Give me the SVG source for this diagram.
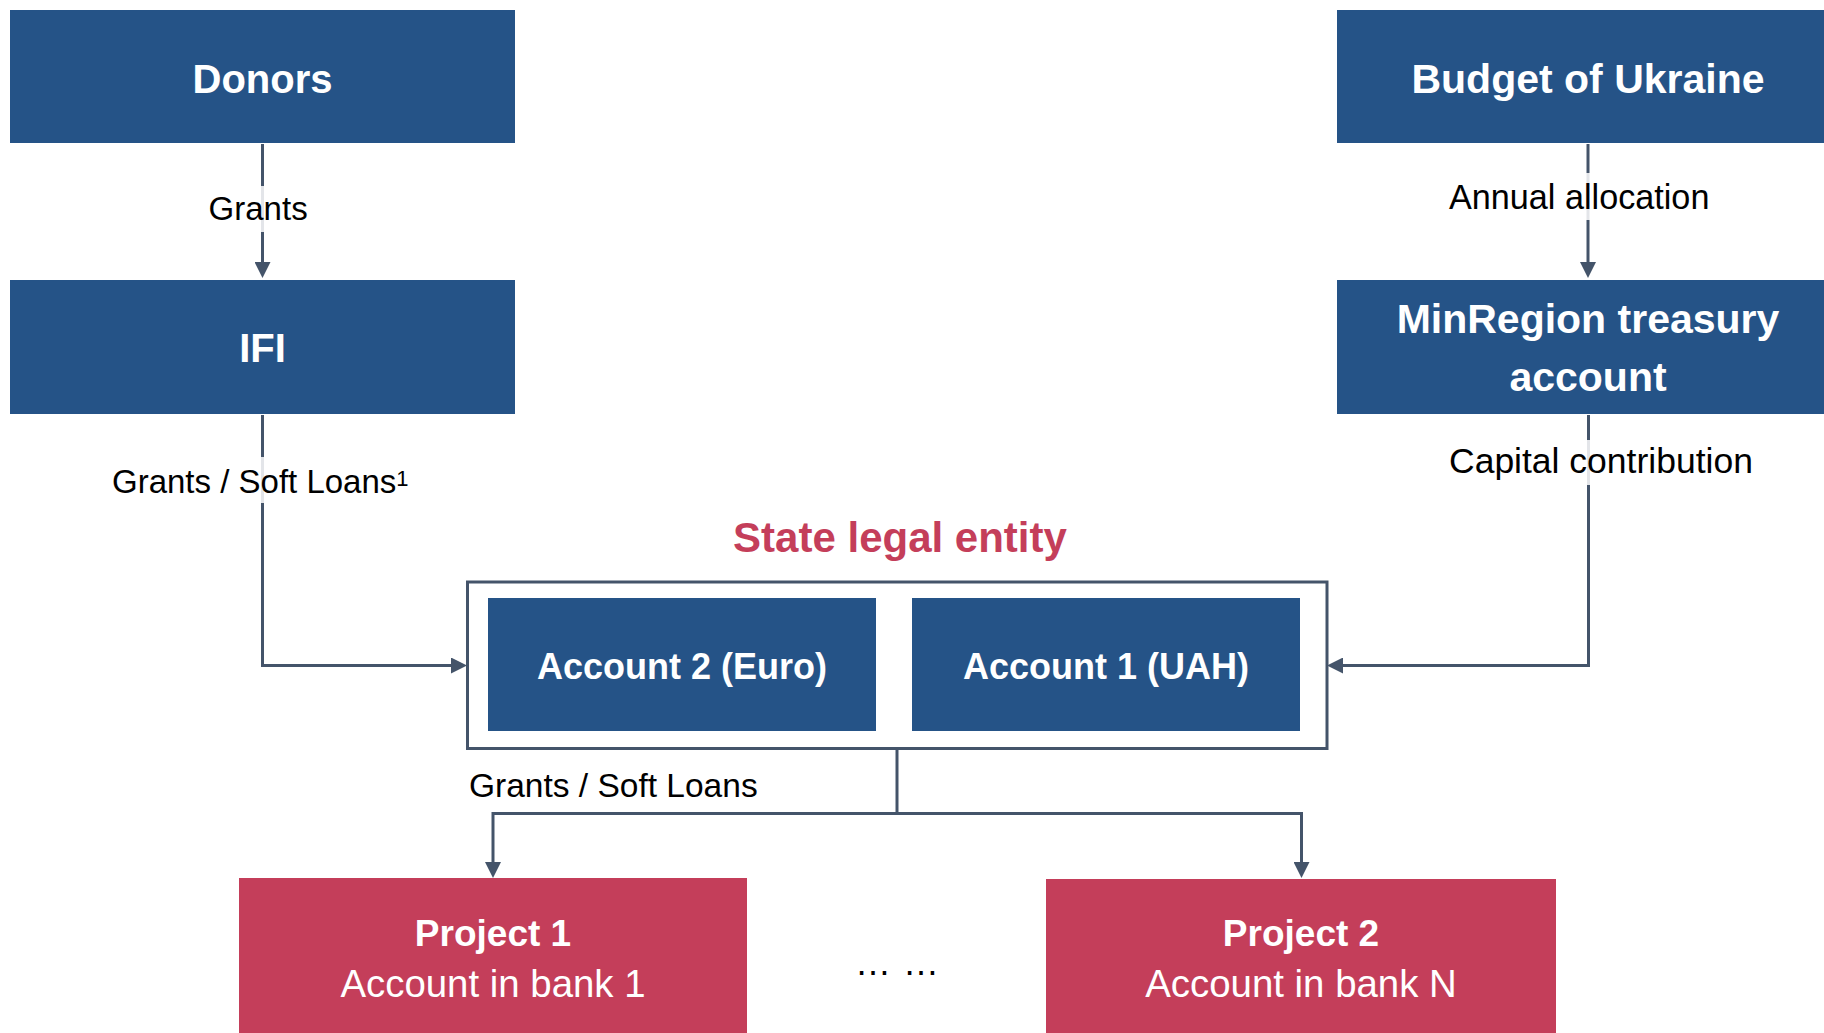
<svg xmlns="http://www.w3.org/2000/svg" width="1824" height="1033" viewBox="0 0 1824 1033">
<style>
  .blue { fill: #255387; }
  .red { fill: #c43e5a; }
  .conn { fill: none; stroke: #44546a; stroke-width: 3; }
  .t { font-family: "Liberation Sans", Arial, sans-serif; }
  .bw { font-family: "Liberation Sans", Arial, sans-serif; font-weight: bold; fill: #ffffff; text-anchor: middle; }
  .lbl { font-family: "Liberation Sans", Arial, sans-serif; fill: #000000; }
  .lblbg { fill: #ffffff; fill-opacity: 0.85; }
</style>
<defs>
  <marker id="arr" markerUnits="userSpaceOnUse" markerWidth="16" markerHeight="16" refX="12" refY="8" orient="auto">
    <path d="M0,0 L16,8 L0,16 Z" fill="#44546a"/>
  </marker>
</defs>
<rect width="1824" height="1033" fill="#ffffff"/>

<g id="node-donors">
  <rect class="blue" x="10" y="10" width="505" height="133"/>
  <text class="bw" x="262.5" y="93" font-size="40">Donors</text>
</g>
<g id="node-ifi">
  <rect class="blue" x="10" y="280" width="505" height="134"/>
  <text class="bw" x="262.5" y="362" font-size="40">IFI</text>
</g>
<g id="node-budget">
  <rect class="blue" x="1337" y="10" width="502" height="133"/>
  <text class="bw" x="1588" y="93" font-size="41">Budget of Ukraine</text>
</g>
<g id="node-minregion">
  <rect class="blue" x="1337" y="280" width="502" height="134"/>
  <text class="bw" x="1588" y="333" font-size="41">MinRegion treasury</text>
  <text class="bw" x="1588" y="391" font-size="41">account</text>
</g>
<g id="node-state-entity">
  <text class="t" x="900" y="552" font-size="42" font-weight="bold" fill="#c43e5a" text-anchor="middle">State legal entity</text>
  <rect x="467.5" y="582" width="859.5" height="166.5" fill="#ffffff" stroke="#44546a" stroke-width="3"/>
</g>
<g id="node-account2">
  <rect class="blue" x="488" y="598" width="388" height="133"/>
  <text class="bw" x="682" y="679" font-size="36">Account 2 (Euro)</text>
</g>
<g id="node-account1">
  <rect class="blue" x="912" y="598" width="388" height="133"/>
  <text class="bw" x="1106" y="679" font-size="36">Account 1 (UAH)</text>
</g>
<g id="node-project1">
  <rect class="red" x="239" y="878" width="508" height="160"/>
  <text class="bw" x="493" y="946" font-size="37">Project 1</text>
  <text class="t" x="493" y="997" font-size="38.4" fill="#ffffff" text-anchor="middle">Account in bank 1</text>
</g>
<g id="node-project2">
  <rect class="red" x="1046" y="879" width="510" height="160"/>
  <text class="bw" x="1301" y="946" font-size="37">Project 2</text>
  <text class="t" x="1301" y="997" font-size="38.4" fill="#ffffff" text-anchor="middle">Account in bank N</text>
</g>
<g id="ellipsis">
  <text class="t" font-size="36" fill="#000000" text-anchor="middle" y="975"><tspan x="873">…</tspan><tspan x="921">…</tspan></text>
</g>

<g id="connectors">
  <path class="conn" d="M262.5,144 V274" marker-end="url(#arr)"/>
  <path class="conn" d="M1588,144 V274" marker-end="url(#arr)"/>
  <path class="conn" d="M262.5,415 V665.5 H463" marker-end="url(#arr)"/>
  <path class="conn" d="M1588.5,415 V665.5 H1331" marker-end="url(#arr)"/>
  <path class="conn" d="M897,750 V813.5"/>
  <path class="conn" d="M493,813.5 H1301.5"/>
  <path class="conn" d="M493,812 V874" marker-end="url(#arr)"/>
  <path class="conn" d="M1301.5,812 V874" marker-end="url(#arr)"/>
</g>

<g id="labels">
  <rect class="lblbg" x="205" y="186" width="106" height="46"/>
  <text class="lbl" x="208.6" y="220" font-size="33">Grants</text>
  <rect class="lblbg" x="1445" y="173" width="268" height="47"/>
  <text class="lbl" x="1449" y="209" font-size="34.2">Annual allocation</text>
  <rect class="lblbg" x="108" y="457" width="308" height="46"/>
  <text class="lbl" x="112" y="493" font-size="33">Grants / Soft Loans<tspan font-size="22" dy="-7">1</tspan></text>
  <rect class="lblbg" x="1445" y="440" width="307" height="45"/>
  <text class="lbl" x="1449" y="473" font-size="35.5">Capital contribution</text>
  <text class="lbl" x="469" y="797" font-size="33.5">Grants / Soft Loans</text>
</g>
</svg>
